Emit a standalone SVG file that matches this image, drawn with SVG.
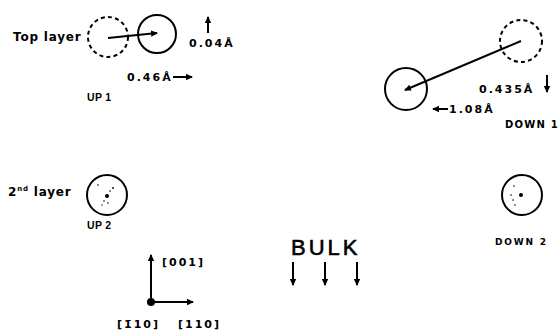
<svg xmlns="http://www.w3.org/2000/svg" width="559" height="335" viewBox="0 0 559 335">
<style>
  text { font-family: "DejaVu Sans", "Liberation Sans", sans-serif; font-weight: bold; fill: #000; }
  .lbl { font-size: 11px; letter-spacing: 2px; }
  .name { font-family: "Liberation Sans", Arial, sans-serif; font-size: 10.5px; letter-spacing: 0.3px; }
  .big { font-family: "Liberation Sans", Arial, sans-serif; font-size: 22px; font-weight: normal; letter-spacing: 3px; stroke:#000; stroke-width:0.6; }
  .atom { fill: none; stroke: #000; stroke-width: 2; }
  .dash { stroke-dasharray: 4 3.2; }
  .ln { stroke: #000; stroke-width: 2; fill: none; }
</style>
<defs>
  <marker id="ah" markerWidth="8" markerHeight="8" refX="6" refY="4" orient="auto" markerUnits="userSpaceOnUse">
    <path d="M0,0.8 L7,4 L0,7.2 Z" fill="#000"/>
  </marker>
</defs>
<rect width="559" height="335" fill="#fff"/>

<g id="up1">
  <text x="13" y="41" style="font-size:12px;letter-spacing:0.8px">Top layer</text>
  <circle class="atom dash" cx="108" cy="37" r="20"/>
  <circle class="atom" cx="157" cy="34" r="19"/>
  <text x="87" y="101" class="name">UP 1</text>
</g>

<g id="down1">
  <circle class="atom dash" cx="521" cy="41" r="21"/>
  <circle class="atom" cx="406" cy="89" r="21"/>
  <text x="505" y="128" style="font-size:10px;letter-spacing:1.2px">DOWN 1</text>
</g>

<g id="up2">
  <text x="8" y="196" style="font-size:12px;letter-spacing:0.8px">2<tspan dy="-5" style="font-size:7px">nd</tspan><tspan dy="5"> layer</tspan></text>
  <circle class="atom" cx="107" cy="195" r="20"/>
  <circle cx="107" cy="196" r="2" fill="#000"/>
  <circle cx="113" cy="188" r="0.9" fill="#000"/>
  <circle cx="110" cy="191" r="0.8" fill="#000"/>
  <circle cx="104" cy="201" r="0.8" fill="#000"/>
  <circle cx="108" cy="203" r="0.8" fill="#000"/>
  <circle cx="98" cy="185" r="0.8" fill="#000"/>
  <circle cx="102" cy="205" r="0.7" fill="#000"/>
  <text x="87" y="229" class="name">UP 2</text>
</g>

<g id="down2">
  <circle class="atom" cx="522" cy="195" r="20"/>
  <circle cx="521" cy="195" r="2" fill="#000"/>
  <circle cx="514" cy="186" r="0.8" fill="#000"/>
  <circle cx="511" cy="195" r="0.8" fill="#000"/>
  <circle cx="513" cy="200" r="0.8" fill="#000"/>
  <circle cx="515" cy="205" r="0.8" fill="#000"/>
  <text x="495" y="245" style="font-size:9px;letter-spacing:1.8px">DOWN 2</text>
</g>

<g id="bulk">
  <text x="291" y="255" class="big">BULK</text>
</g>

<g id="axes">
  <circle cx="151" cy="302" r="4" fill="#000"/>
  <text x="162" y="266" class="lbl">[001]</text>
  <text x="117" y="328" class="lbl">[1̄10]</text>
  <text x="178" y="328" class="lbl">[110]</text>
</g>

<g id="labels">
  <text x="189" y="47" class="lbl">0.04Å</text>
  <text x="127" y="81" class="lbl">0.46Å</text>
  <text x="479" y="93" class="lbl">0.435Å</text>
  <text x="449" y="113" class="lbl">1.08Å</text>
</g>

<g id="connectors">
  <line class="ln" x1="108" y1="38" x2="157" y2="33" marker-end="url(#ah)"/>
  <line class="ln" x1="521" y1="41" x2="405" y2="90" marker-end="url(#ah)"/>
  <line class="ln" x1="208" y1="33" x2="208" y2="17" marker-end="url(#ah)"/>
  <line class="ln" x1="173" y1="77" x2="192" y2="77" marker-end="url(#ah)"/>
  <line class="ln" x1="448" y1="109" x2="433" y2="109" marker-end="url(#ah)"/>
  <line class="ln" x1="547" y1="75" x2="547" y2="92" marker-end="url(#ah)"/>
  <line class="ln" x1="293" y1="262" x2="293" y2="285" marker-end="url(#ah)"/>
  <line class="ln" x1="325" y1="262" x2="325" y2="285" marker-end="url(#ah)"/>
  <line class="ln" x1="357" y1="262" x2="357" y2="285" marker-end="url(#ah)"/>
  <line class="ln" x1="151" y1="302" x2="151" y2="255" marker-end="url(#ah)"/>
  <line class="ln" x1="151" y1="302" x2="193" y2="302" marker-end="url(#ah)"/>
</g>
</svg>
